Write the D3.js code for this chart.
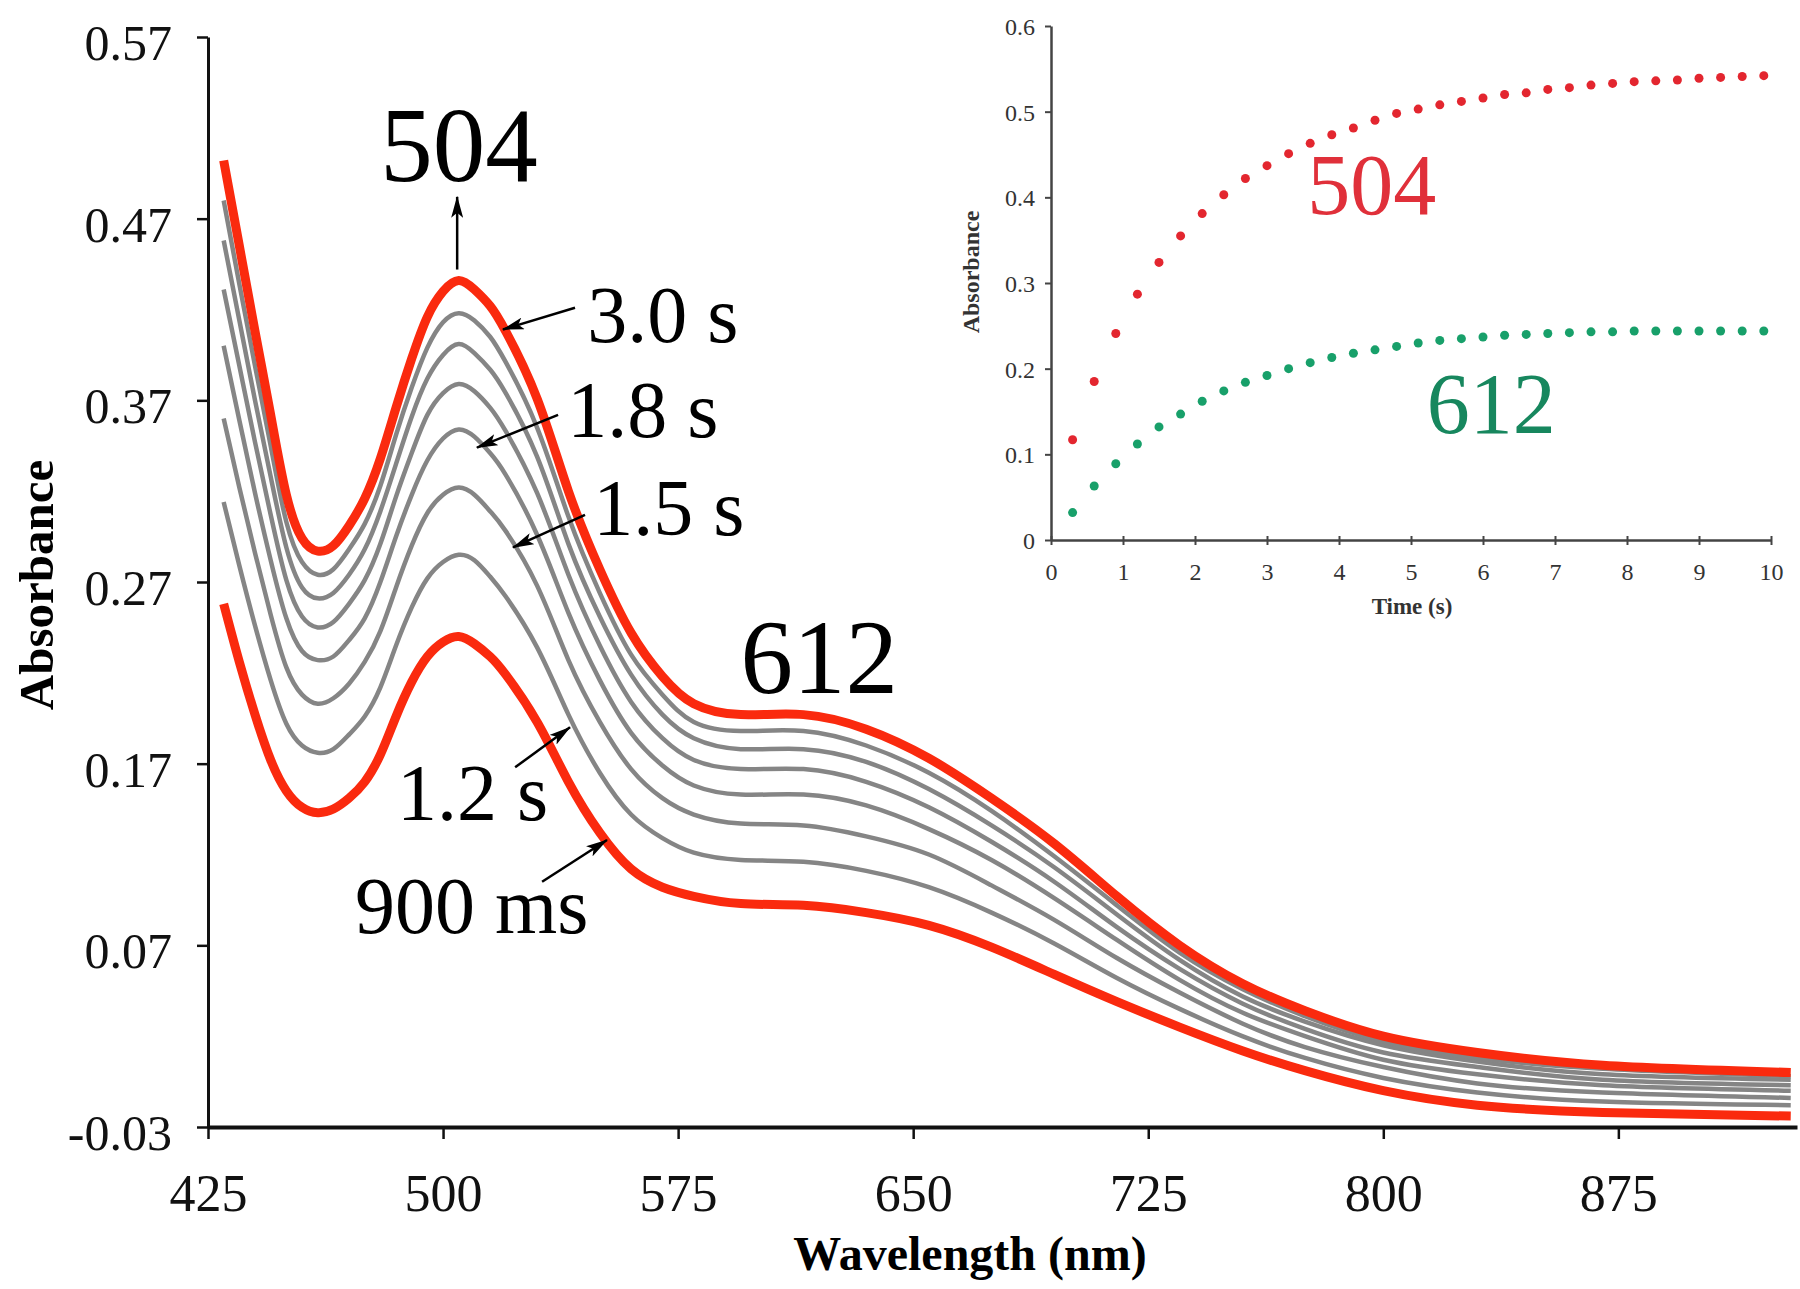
<!DOCTYPE html>
<html>
<head>
<meta charset="utf-8">
<script src="https://cdn.jsdelivr.net/npm/d3@7"></script>
<style>
  body { margin: 0; background: #fff; }
  svg text { font-family: "Liberation Serif", "Times New Roman", serif; }
</style>
</head>
<body>
<svg id="chart" width="1800" height="1289"></svg>
<script>
// spectra sampled at these wavelengths (nm)
const wavelengths = [430, 435, 440, 445, 450, 455, 460, 465, 470, 475, 480, 485, 490, 495, 500, 505, 510, 515, 520,
  530, 540, 550, 560, 570, 580, 595, 615, 635, 655, 675, 695, 715, 735, 755, 775, 800, 830, 870, 930];

const abs900ms = [0.258, 0.226, 0.197, 0.172, 0.155, 0.146, 0.143, 0.145, 0.151, 0.160, 0.175, 0.196, 0.215, 0.229, 0.237, 0.240, 0.236, 0.229, 0.219,
  0.193, 0.160, 0.132, 0.112, 0.102, 0.097, 0.093, 0.092, 0.088, 0.081, 0.069, 0.054, 0.039, 0.025, 0.012, 0.001, -0.010, -0.018, -0.022, -0.024];
const abs1200ms = [0.314, 0.279, 0.246, 0.216, 0.192, 0.180, 0.176, 0.178, 0.186, 0.196, 0.212, 0.235, 0.256, 0.272, 0.281, 0.285, 0.282, 0.273, 0.262,
  0.234, 0.197, 0.165, 0.142, 0.129, 0.121, 0.117, 0.116, 0.111, 0.102, 0.088, 0.071, 0.052, 0.035, 0.020, 0.008, -0.003, -0.011, -0.016, -0.018];
const abs1500ms = [0.360, 0.322, 0.286, 0.252, 0.223, 0.208, 0.203, 0.206, 0.214, 0.226, 0.243, 0.267, 0.290, 0.308, 0.318, 0.322, 0.318, 0.309, 0.298,
  0.268, 0.227, 0.193, 0.167, 0.151, 0.142, 0.137, 0.136, 0.130, 0.120, 0.103, 0.084, 0.063, 0.044, 0.027, 0.014, 0.003, -0.006, -0.011, -0.014];
const abs1800ms = [0.400, 0.359, 0.319, 0.282, 0.250, 0.232, 0.227, 0.229, 0.238, 0.250, 0.270, 0.295, 0.318, 0.337, 0.349, 0.354, 0.350, 0.341, 0.329,
  0.296, 0.253, 0.216, 0.187, 0.169, 0.158, 0.153, 0.153, 0.147, 0.134, 0.117, 0.096, 0.073, 0.051, 0.033, 0.020, 0.007, -0.001, -0.007, -0.010];
const abs2100ms = [0.431, 0.389, 0.347, 0.307, 0.271, 0.251, 0.245, 0.248, 0.258, 0.271, 0.291, 0.317, 0.341, 0.362, 0.374, 0.379, 0.375, 0.366, 0.353,
  0.319, 0.274, 0.235, 0.204, 0.184, 0.172, 0.167, 0.167, 0.160, 0.146, 0.127, 0.105, 0.080, 0.057, 0.038, 0.024, 0.011, 0.003, -0.004, -0.007];
const abs2400ms = [0.458, 0.414, 0.370, 0.328, 0.289, 0.267, 0.261, 0.264, 0.274, 0.288, 0.309, 0.335, 0.361, 0.382, 0.395, 0.401, 0.396, 0.387, 0.374,
  0.339, 0.291, 0.251, 0.219, 0.197, 0.184, 0.178, 0.178, 0.171, 0.156, 0.136, 0.113, 0.087, 0.062, 0.042, 0.028, 0.015, 0.006, -0.001, -0.004];
const abs2700ms = [0.480, 0.434, 0.389, 0.345, 0.303, 0.281, 0.274, 0.277, 0.288, 0.302, 0.323, 0.351, 0.377, 0.399, 0.413, 0.418, 0.414, 0.405, 0.391,
  0.355, 0.306, 0.264, 0.230, 0.208, 0.193, 0.188, 0.188, 0.180, 0.165, 0.144, 0.119, 0.092, 0.066, 0.046, 0.031, 0.017, 0.008, 0.002, -0.002];
const abs3000ms = [0.502, 0.455, 0.408, 0.362, 0.318, 0.294, 0.287, 0.290, 0.301, 0.316, 0.338, 0.366, 0.393, 0.416, 0.430, 0.436, 0.431, 0.422, 0.408,
  0.371, 0.320, 0.277, 0.242, 0.218, 0.203, 0.197, 0.197, 0.189, 0.173, 0.151, 0.126, 0.097, 0.070, 0.049, 0.034, 0.020, 0.011, 0.004, 0.000];

const xTicks = [425, 500, 575, 650, 725, 800, 875];
const yTicks = [-0.03, 0.07, 0.17, 0.27, 0.37, 0.47, 0.57];

// inset: absorbance vs time at 504 and 612 nm
const kineticTimes = [0.3, 0.6, 0.9, 1.2, 1.5, 1.8, 2.1, 2.4, 2.7, 3.0, 3.3, 3.6, 3.9, 4.2, 4.5, 4.8, 5.1,
  5.4, 5.7, 6.0, 6.3, 6.6, 6.9, 7.2, 7.5, 7.8, 8.1, 8.4, 8.7, 9.0, 9.3, 9.6, 9.9];
const kin504 = [0.117, 0.185, 0.241, 0.287, 0.324, 0.355, 0.381, 0.403, 0.422, 0.437, 0.451, 0.463, 0.473, 0.481, 0.490, 0.498, 0.503,
  0.508, 0.512, 0.516, 0.520, 0.522, 0.526, 0.528, 0.531, 0.533, 0.535, 0.536, 0.537, 0.539, 0.540, 0.541, 0.542];
const kin612 = [0.032, 0.063, 0.089, 0.112, 0.132, 0.147, 0.162, 0.174, 0.184, 0.192, 0.200, 0.207, 0.213, 0.218, 0.222, 0.226, 0.230,
  0.233, 0.235, 0.237, 0.239, 0.240, 0.241, 0.242, 0.243, 0.243, 0.244, 0.244, 0.244, 0.244, 0.244, 0.244, 0.244];
const insetXTicks = [0, 1, 2, 3, 4, 5, 6, 7, 8, 9, 10];
const insetYTicks = [0, 0.1, 0.2, 0.3, 0.4, 0.5, 0.6];

const RED = '#fa2a0e';
const GRAY = '#858585';

const svg = d3.select('#chart');

// marker for the annotation arrows
const defs = svg.append('defs');
defs.append('marker')
  .attr('id', 'head')
  .attr('markerUnits', 'userSpaceOnUse')
  .attr('markerWidth', 22).attr('markerHeight', 12)
  .attr('refX', 21).attr('refY', 6)
  .attr('orient', 'auto')
  .append('path').attr('d', 'M0,0 L22,6 L0,12 L5,6 Z').attr('fill', '#000');

// ---------- main spectra ----------
const x = d3.scaleLinear().domain([425, 932]).range([208, 1797]);
const y = d3.scaleLinear().domain([-0.03, 0.57]).range([1127, 37]);

const line = d3.line()
  .x((d, i) => x(wavelengths[i]))
  .y(d => y(d))
  .curve(d3.curveNatural);

const grays = [abs1200ms, abs1500ms, abs1800ms, abs2100ms, abs2400ms, abs2700ms];
const reds = [abs900ms, abs3000ms];

svg.append('g').selectAll('path').data(grays).join('path')
  .attr('d', line)
  .attr('fill', 'none')
  .attr('stroke', GRAY)
  .attr('stroke-width', 4.5);

svg.append('g').selectAll('path').data(reds).join('path')
  .attr('d', line)
  .attr('fill', 'none')
  .attr('stroke', RED)
  .attr('stroke-width', 9);

const xAxis = svg.append('g')
  .attr('transform', `translate(0,${y(-0.03)})`)
  .call(d3.axisBottom(x).tickValues(xTicks).tickSize(12).tickSizeOuter(0));
xAxis.select('.domain').attr('stroke', '#111').attr('stroke-width', 4);
xAxis.selectAll('.tick line').attr('stroke', '#111').attr('stroke-width', 2.5);
xAxis.selectAll('.tick text')
  .attr('y', 84).attr('dy', null)
  .attr('font-size', 52).attr('fill', '#111');

const fmt2 = d3.format('.2f');
const yAxis = svg.append('g')
  .attr('transform', `translate(${x(425)},0)`)
  .call(d3.axisLeft(y).tickValues(yTicks).tickSize(11).tickSizeOuter(0)
    .tickFormat(d => fmt2(d).replace('\u2212', '-')));
yAxis.select('.domain').attr('stroke', '#111').attr('stroke-width', 3);
yAxis.selectAll('.tick line').attr('stroke', '#111').attr('stroke-width', 2.5);
yAxis.selectAll('.tick text')
  .attr('x', -36).attr('dy', '0.45em')
  .attr('font-size', 50).attr('fill', '#111');

svg.append('text')
  .attr('x', 970).attr('y', 1270)
  .attr('text-anchor', 'middle')
  .attr('font-size', 48).attr('font-weight', 'bold')
  .text('Wavelength (nm)');

svg.append('text')
  .attr('transform', 'translate(53,585) rotate(-90)')
  .attr('text-anchor', 'middle')
  .attr('font-size', 49).attr('font-weight', 'bold')
  .text('Absorbance');

// peak labels
svg.append('text')
  .attr('x', x(505.1)).attr('y', y(0.491))
  .attr('text-anchor', 'middle').attr('font-size', 105)
  .text('504');
svg.append('text')
  .attr('x', x(620)).attr('y', y(0.209))
  .attr('text-anchor', 'middle').attr('font-size', 105)
  .text('612');

// time labels with arrows: [text, text wl, text abs, tail wl, tail abs, tip wl, tip abs]
const timeNotes = [
  ['3.0 s', 546, 0.402, 542.1, 0.421, 519.1, 0.409],
  ['1.8 s', 539.6, 0.350, 536.7, 0.362, 510.8, 0.344],
  ['1.5 s', 547.9, 0.296, 545.3, 0.307, 522.3, 0.289],
  ['1.2 s', 485.3, 0.139, 523.0, 0.168, 540.5, 0.190],
  ['900 ms', 471.9, 0.077, 531.6, 0.105, 552.3, 0.128]
];
const notes = svg.append('g');
notes.selectAll('text').data(timeNotes).join('text')
  .attr('x', d => x(d[1])).attr('y', d => y(d[2]))
  .attr('font-size', 80)
  .text(d => d[0]);
notes.selectAll('line').data(timeNotes).join('line')
  .attr('x1', d => x(d[3])).attr('y1', d => y(d[4]))
  .attr('x2', d => x(d[5])).attr('y2', d => y(d[6]))
  .attr('stroke', '#000').attr('stroke-width', 2.5)
  .attr('marker-end', 'url(#head)');

svg.append('line')
  .attr('x1', x(504.5)).attr('y1', y(0.442))
  .attr('x2', x(504.5)).attr('y2', y(0.482))
  .attr('stroke', '#000').attr('stroke-width', 2.5)
  .attr('marker-end', 'url(#head)');

// ---------- inset ----------
const ix = d3.scaleLinear().domain([0, 10]).range([1051, 1771]);
const iy = d3.scaleLinear().domain([0, 0.6]).range([540, 26]);

const ixAxis = svg.append('g')
  .attr('transform', `translate(0,${iy(0)})`)
  .call(d3.axisBottom(ix).tickValues(insetXTicks).tickSize(5).tickSizeOuter(0));
ixAxis.select('.domain').attr('stroke', '#444').attr('stroke-width', 2.5);
ixAxis.selectAll('.tick line').attr('y1', -4).attr('stroke', '#444').attr('stroke-width', 2);
ixAxis.selectAll('.tick text')
  .attr('y', 40).attr('dy', null)
  .attr('font-size', 24).attr('fill', '#333');

const iyAxis = svg.append('g')
  .attr('transform', `translate(${ix(0)},0)`)
  .call(d3.axisLeft(iy).tickValues(insetYTicks).tickSize(6).tickSizeOuter(0)
    .tickFormat(d => d === 0 ? '0' : d3.format('.1f')(d)));
iyAxis.select('.domain').attr('stroke', '#444').attr('stroke-width', 2.5);
iyAxis.selectAll('.tick line').attr('stroke', '#444').attr('stroke-width', 2);
iyAxis.selectAll('.tick text')
  .attr('x', -16).attr('dy', '0.35em')
  .attr('font-size', 24).attr('fill', '#333');

svg.append('text')
  .attr('x', 1412).attr('y', 614)
  .attr('text-anchor', 'middle')
  .attr('font-size', 23).attr('font-weight', 'bold').attr('fill', '#333')
  .text('Time (s)');
svg.append('text')
  .attr('transform', 'translate(979,272) rotate(-90)')
  .attr('text-anchor', 'middle')
  .attr('font-size', 24).attr('font-weight', 'bold').attr('fill', '#333')
  .text('Absorbance');

const kinSeries = [
  { values: kin504, dot: '#e3262f', label: '504', labelColor: '#e0303a', lt: 3.56, la: 0.381 },
  { values: kin612, dot: '#18a06a', label: '612', labelColor: '#17875e', lt: 5.22, la: 0.125 }
];

kinSeries.forEach(s => {
  svg.append('g').selectAll('circle').data(s.values).join('circle')
    .attr('cx', (d, i) => ix(kineticTimes[i]))
    .attr('cy', d => iy(d))
    .attr('r', 4.5)
    .attr('fill', s.dot);
  svg.append('text')
    .attr('x', ix(s.lt)).attr('y', iy(s.la))
    .attr('font-size', 86).attr('fill', s.labelColor)
    .text(s.label);
});
</script>
</body>
</html>
